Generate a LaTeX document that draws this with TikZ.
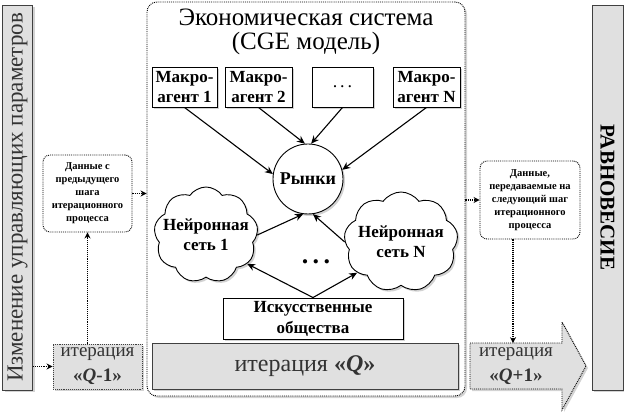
\documentclass[tikz,border=0pt]{standalone}
\usepackage{fontspec}
\setmainfont{Liberation Serif}
\usetikzlibrary{calc,shapes.symbols,shadows,arrows.meta}

\begin{document}
\begin{tikzpicture}[x=1pt,y=-1pt,line width=0.9pt,
    shade/.style={drop shadow={shadow xshift=2pt,shadow yshift=-2pt,opacity=.35}},
    bar/.style={draw=black!75,fill=black!12,inner sep=0pt,text=black!80,shade},
    agent/.style={draw,fill=white,inner sep=1pt,align=center,minimum height=40,font=\fontsize{17}{20}\selectfont\bfseries,shade},
    net/.style={cloud,cloud puffs=9,cloud puff arc=110,draw,fill=white,inner sep=0pt,shade},
    nettext/.style={align=center,font=\fontsize{17}{20}\selectfont\bfseries},
    note/.style={draw,densely dotted,rounded corners=7pt,fill=white,align=center,inner sep=1pt,font=\fontsize{10.5}{13}\selectfont\bfseries},
    link/.style={-{Stealth[length=8pt,width=7pt]},line width=1.1pt},
    flow/.style={-{Stealth[length=6pt,width=6pt]},densely dotted,line width=1.1pt}]

    \useasboundingbox (0,0) rectangle (624,414);
    \pgfmathsetmacro{\h}{385}	%bar height

    % economic system
    \node[draw,densely dotted,rounded corners=10pt,fill=white,minimum width=318,minimum height=394,shade] (econ) at (306,199) {};
    \node[font=\fontsize{25}{24}\selectfont,align=center] (title) at (306,32) {Экономическая система\\(CGE модель)};

    \node[agent,minimum width=65] (m1) at (184.5,87) {Макро-\\агент 1};
    \node[agent,minimum width=67] (m2) at (258.5,87) {Макро-\\агент 2};
    \node[agent,minimum width=61,font=\fontsize{18}{20}\selectfont] (m3) at (342.5,87) {.\,.\,.};
    \node[agent,minimum width=67] (m4) at (426.5,87) {Макро-\\агент N};

    \node[circle,draw,fill=white,minimum size=70,font=\fontsize{18}{20}\selectfont\bfseries,shade] (mkt) at (308,179) {Рынки};

    \node[net,minimum width=104,minimum height=96] (c1) at (206,235) {};
    \node[nettext] (c1t) at (c1) {Нейронная\\сеть 1};
    \node[net,minimum width=114,minimum height=100] (cN) at (401,242) {};
    \node[nettext] (cNt) at (cN) {Нейронная\\сеть N};
    \node[font=\fontsize{26}{26}\selectfont\bfseries] (ndots) at (316,262) {.\,.\,.};

    \node[agent,minimum width=180,minimum height=41,font=\fontsize{17}{21}\selectfont\bfseries] (soc) at (313,318.5) {Искусственные\\общества};
    \node[bar,minimum width=306,minimum height=46,font=\fontsize{24}{26}\selectfont] (itq) at (305,366) {итерация \textbf{«\textit{Q}»}};

    \draw[link] (m1.south) -- (mkt.172);
    \draw[link] (m2.south) -- (mkt.95);
    \draw[link] (m3.south) -- (mkt.85);
    \draw[link] (m4.south) -- (mkt.15);
    \draw[link] (c1.east) -- (mkt.262);
    \draw[link] (cN.west) -- (mkt.278);
    \draw[link] (soc.north) -- (c1.-35);
    \draw[link] (soc.north) -- (cN.215);

    % previous step
    \node[bar,rotate=90,minimum width=\h,minimum height=30,font=\fontsize{23}{24}\selectfont] (ctrl) at (17.5,197.5) {Изменение управляющих параметров};
    \node[note,minimum width=89,minimum height=77] (prev) at (87.5,193.5) {Данные с\\предыдущего\\шага\\итерационного\\процесса};
    \node[bar,densely dotted,minimum width=89,minimum height=45,align=center,font=\fontsize{19}{25}\selectfont] (itp) at (97.5,366.5) {итерация\\\textbf{«\textit{Q}-1»}};

    \draw[flow] (ctrl.south |- itp.west) -- (itp.west);
    \draw[flow] (prev.south |- itp.north) -- (prev.south);
    \draw[flow] (prev.east) -- (prev.east -| econ.west);

    % next step
    \node[note,minimum width=100,minimum height=78] (next) at (530,200) {Данные,\\передаваемые на\\следующий шаг\\итерационного\\процесса};
    \draw[densely dotted,fill=black!12,shade] (470,343) -- (562,343) -- (562,322) -- (586,366) -- (562,410) -- (562,389) -- (470,389) -- cycle;
    \node[align=center,text=black!80,font=\fontsize{19}{25}\selectfont] (itn) at (516,366.5) {итерация\\\textbf{«\textit{Q}+1»}};
    \coordinate (qtop) at ($(next.south |- itn.north)+(-17,-1)$);
    \node[bar,rotate=-90,minimum width=\h,minimum height=31,text=black,font=\fontsize{21}{24}\selectfont\bfseries] (equil) at (607.5,197.5) {РАВНОВЕСИЕ};

    \draw[flow] (econ.east |- next.west) -- (next.west);
    \draw[flow] ($(next.south)+(-17,0)$) -- (qtop);
\end{tikzpicture}
\end{document}
